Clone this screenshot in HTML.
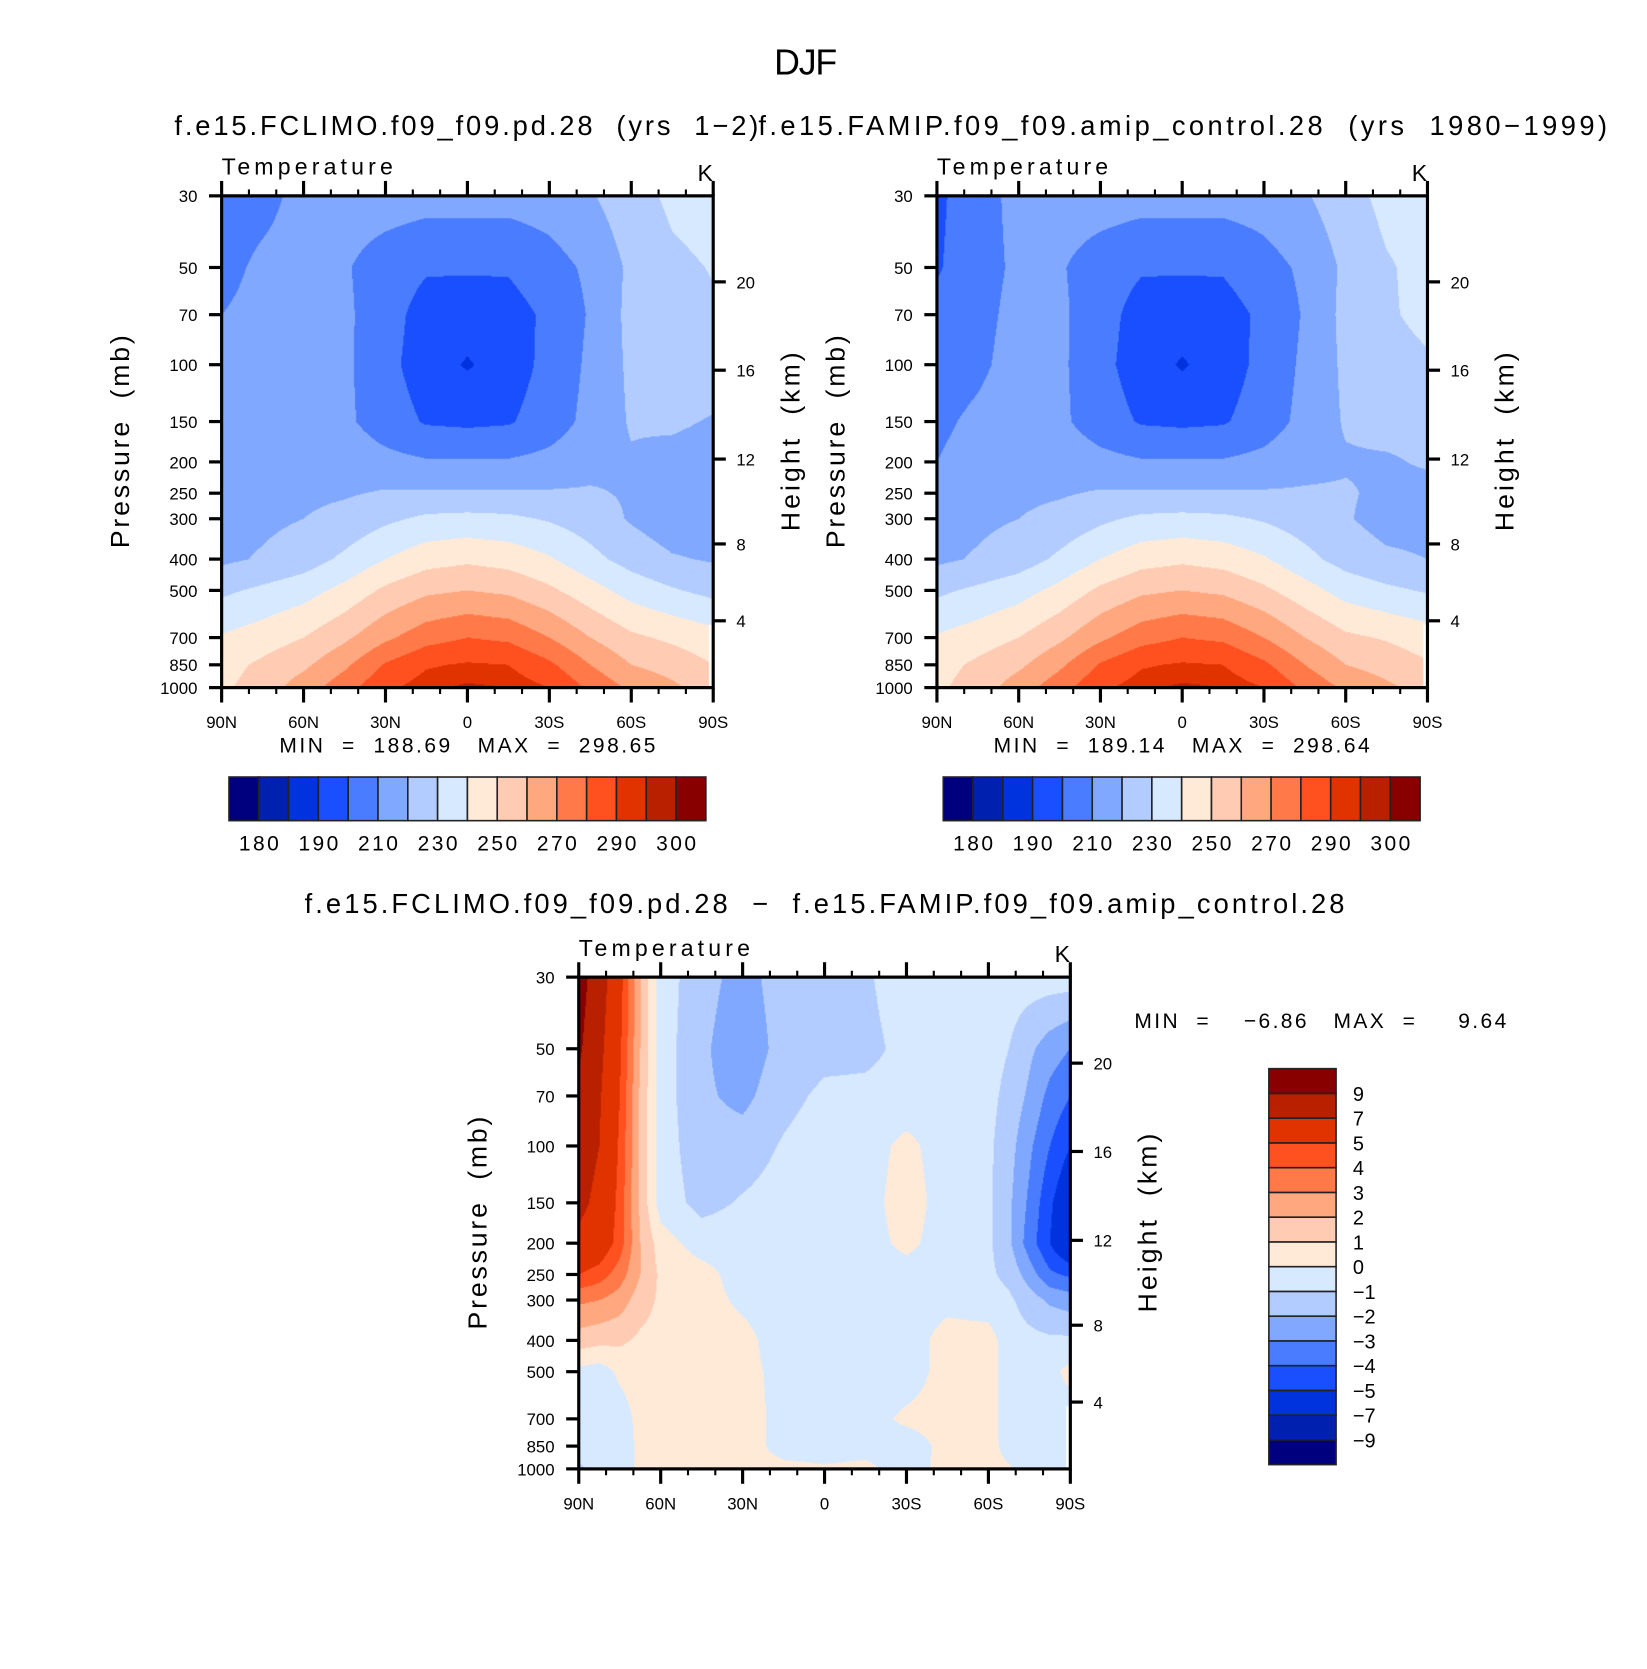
<!DOCTYPE html>
<html><head><meta charset="utf-8">
<style>
html,body{margin:0;padding:0;background:#fff;}
#page{position:relative;width:1647px;height:1669px;overflow:hidden;background:#fff;}
#stage{position:absolute;left:0;top:0;width:1568px;height:1568px;transform-origin:0 0;transform:scale(1.05038,1.06441);}
canvas{position:absolute;}
svg{position:absolute;left:0;top:0;}
text{font-family:"Liberation Sans",sans-serif;fill:#000;white-space:pre;}
</style></head>
<body>
<div id="page">
<div id="stage">
<canvas id="c1" style="left:211px;top:184px" width="468" height="462"></canvas>
<canvas id="c2" style="left:892px;top:184px" width="467" height="462"></canvas>
<canvas id="c3" style="left:551px;top:918px" width="468" height="462"></canvas>
<svg id="ov" width="1568" height="1568"></svg>
</div></div>
<script>
// ---- data ----
const LEVELS=[30,50,70,100,150,200,250,300,400,500,700,850,1000];
const LATS13=[90,75,60,45,30,15,0,-15,-30,-45,-60,-75,-90];
const LATS17=[90,82.5,75,67.5,60,45,30,15,0,-15,-30,-45,-60,-67.5,-75,-82.5,-90];
const T1=[
[205,207,213,215,215,214,214,214,215,219,226,232,234],
[207,212,214,211,205,201,201,201,206,212,222,228,230.5],
[210,213,215,212,204,196,195,196,202,211,223,226,229],
[213,215,216,212,203,195,189,195,203,212,222,225,227],
[214,216,217,212,205,199,198,199,205,213,221,222,219],
[215,216,217,216,213,211,211,211,213,217,219,216,214],
[216,217,218,219,221,221,221,221,221,221,219,216,214],
[217,218,220,223,228,232,233,232,229,225,219,214,214],
[218,221,225,232,240,246,248,246,241,233,226,221,219],
[228,232,236,243,252,258,260,258,252,244,236,231,227],
[241,245,250,258,268,276,280,278,270,260,252,248,244],
[246,252,258,268,281,289,291,290,282,270,260,256,250],
[248,255,265,276,288,294,296,295,290,278,268,262,255]];
const T2=[
[198,206,213,215,215,214,214,214,215,219,226,233,235],
[199,206,212,211,205,201,201,201,206,212,222,229,233],
[203,207,213,212,204,196,195,196,202,211,223,229,232],
[205,208,214,212,203,195,189,195,203,212,222,227,229],
[208,212,216,212,205,199,198,199,205,213,221,223,223],
[210,214,217,216,213,211,211,211,213,217,219,219,221],
[214,217,218,219,221,221,221,221,221,221,221,218,217],
[217,218,220,223,228,232,233,232,229,225,221,216,216],
[218,221,225,232,240,246,248,246,241,233,226,222,220],
[228,232,236,243,252,258,260,258,252,244,236,232,229],
[241,245,250,258,268,276,280,278,270,260,252,249,245],
[246,252,258,268,281,289,291,290,282,270,260,256,251],
[248,255,265,276,288,294,296,295,290,278,268,262,256]];
const D3=[
[9.8,8,5.5,2,-0.5,-1.6,-2.4,-1.5,-1.2,-1.1,-0.6,-0.5,-0.5,-0.5,-0.5,-0.5,-0.5],
[9.3,7.5,5.2,2,-0.5,-1.8,-2.7,-1.6,-1.3,-1.2,-0.8,-0.6,-0.6,-1.0,-1.8,-2.5,-3],
[8.5,7.2,5.0,1.8,-0.5,-1.8,-2.3,-1.3,-0.8,-0.8,-0.7,-0.6,-0.7,-1.3,-2.2,-3.3,-4],
[8,7,4.8,1.8,-0.5,-1.6,-1.5,-0.9,-0.5,-0.5,0.3,-0.6,-0.8,-1.6,-2.8,-4,-5],
[7.5,6.5,4.6,1.8,-0.5,-1.3,-0.9,-0.6,-0.5,-0.5,0.6,-0.6,-0.8,-1.8,-3.2,-4.8,-6.2],
[6.5,6,4.5,2,0.5,-0.5,-0.5,-0.5,-0.5,-0.5,0.3,-0.6,-0.8,-1.8,-3.5,-5,-6.5],
[5,4.5,3.5,2,0.8,0.4,-0.5,-0.5,-0.5,-0.5,-0.5,-0.5,-0.8,-1.3,-2.5,-3.8,-4.2],
[3.2,3,2.5,1.5,0.8,0.4,-0.2,-0.5,-0.5,-0.5,-0.5,-0.3,-0.5,-0.8,-1.5,-2.2,-2.5],
[1.5,1.3,1.2,0.8,0.6,0.5,0.3,-0.5,-0.5,-0.5,-0.5,0.4,0.4,-0.5,-0.7,-0.8,-0.8],
[-0.3,-0.5,0.2,0.5,0.5,0.5,0.3,-0.3,-0.5,-0.5,-0.5,0.4,0.4,-0.5,-0.5,-0.3,0.3],
[-0.5,-0.5,-0.5,0.3,0.5,0.4,0.4,-0.3,-0.5,-0.4,0.2,0.4,0.4,-0.5,-0.5,-0.5,-0.5],
[-0.5,-0.6,-0.5,0.2,0.5,0.4,0.4,-0.3,-0.4,-0.3,-0.5,0.3,0.3,-0.3,-0.5,-0.5,-0.5],
[-1.2,-0.6,-0.5,0.2,0.4,0.4,0.3,0.2,0.1,0.2,-0.4,0.3,0.3,0.1,-0.5,-0.5,-0.5]];
const TEMP_BOUNDS=[180,185,190,200,210,220,230,240,250,260,270,280,290,295,300];
const DIFF_BOUNDS=[-9,-7,-5,-4,-3,-2,-1,0,1,2,3,4,5,7,9];
const TEMP_LABELS=['180','190','210','230','250','270','290','300'];
const DIFF_LABELS=['−9','−7','−5','−4','−3','−2','−1','0','1','2','3','4','5','7','9'];
const COLORS=['#00007f','#0020b0','#0033dd','#1a4fff','#4a7cff','#80a8ff','#b3ccff','#d7e9ff','#ffead8','#ffcbb2','#ffa880','#ff7a48','#ff5020','#e03300','#b82000','#880000'];
const P_TICKS=[30,50,70,100,150,200,250,300,400,500,700,850,1000];
const H_TICKS=['4','8','12','16','20'];
const H_PRES=[621,359,196,104,55.4];
const X_LABELS=['90N','60N','30N','0','30S','60S','90S'];

// ---- helpers ----
const LN=Math.log(1000/30);
function yOfP(p,y0,H){return y0+Math.log(p/30)/LN*H;}
function hexRGB(h){return [parseInt(h.substr(1,2),16),parseInt(h.substr(3,2),16),parseInt(h.substr(5,2),16)];}
const RGB=COLORS.map(hexRGB);
function sample(grid,lats,lat,p){
  let i=0;while(i<lats.length-2&&lat<lats[i+1])i++;
  let tx=(lats[i]-lat)/(lats[i]-lats[i+1]);tx=Math.max(0,Math.min(1,tx));
  let k=0;while(k<LEVELS.length-2&&p>LEVELS[k+1])k++;
  let ty=(Math.log(p)-Math.log(LEVELS[k]))/(Math.log(LEVELS[k+1])-Math.log(LEVELS[k]));ty=Math.max(0,Math.min(1,ty));
  const a=grid[k][i],b=grid[k][i+1],c=grid[k+1][i],d=grid[k+1][i+1];
  return (a*(1-tx)+b*tx)*(1-ty)+(c*(1-tx)+d*tx)*ty;
}
function colorIdx(v,bounds){let n=0;for(const b of bounds)if(v>=b)n++;return n;}
function fill(id,grid,lats,bounds,mask){
  const cv=document.getElementById(id),ctx=cv.getContext('2d');
  const W=cv.width,H=cv.height,img=ctx.createImageData(W,H);
  for(let py=0;py<H;py++){
    const p=30*Math.exp((py+0.5)/H*LN);
    for(let px=0;px<W;px++){
      const lat=90-(px+0.5)/W*180;
      const o=(py*W+px)*4;
      if(mask&&lat<-88.5&&p>640){img.data[o+3]=0;continue;}
      const c=RGB[colorIdx(sample(grid,lats,lat,p),bounds)];
      img.data[o]=c[0];img.data[o+1]=c[1];img.data[o+2]=c[2];img.data[o+3]=255;
    }
  }
  ctx.putImageData(img,0,0);
}
const NS='http://www.w3.org/2000/svg';
const ov=document.getElementById('ov');
function mk(tag,attrs,parent){const e=document.createElementNS(NS,tag);for(const k in attrs)e.setAttribute(k,attrs[k]);(parent||ov).appendChild(e);return e;}
function txt(s,x,y,size,anchor,parent,rot,len){
  const a={x:x,y:y,'font-size':size,'text-anchor':anchor||'start'};
  if(rot)a.transform='rotate(-90 '+x+' '+y+')';
  if(len){a.textLength=len;a.lengthAdjust='spacing';}
  const e=mk('text',a,parent);e.textContent=s;return e;
}

function axes(name,x0,y0,W,H){
  const g=mk('g',{});
  
  
  const fr=mk('rect',{x:x0,y:y0,width:W,height:H,fill:'none',stroke:'#000','stroke-width':3},g);
  
  
  for(let d=0;d<=180;d+=10){
    const x=x0+d/180*W,major=d%30===0,L=major?14:6;
    const t1=mk('line',{x1:x,y1:y0,x2:x,y2:y0-L,stroke:'#000','stroke-width':major?3:2},g);
    
    
    const t2=mk('line',{x1:x,y1:y0+H,x2:x,y2:y0+H+L,stroke:'#000','stroke-width':major?3:2},g);
    
    
  }
  X_LABELS.forEach((s,i)=>{
    const t=txt(s,x0+i*W/6,y0+H+38,16,'middle',g);
    
    
  });
  P_TICKS.forEach(p=>{
    const y=yOfP(p,y0,H);
    const l=mk('line',{x1:x0,y1:y,x2:x0-12,y2:y,stroke:'#000','stroke-width':3},g);
    
    
    const t=txt(String(p),x0-23,y+6,16,'end',g);
    
    
  });
  H_TICKS.forEach((s,i)=>{
    const y=yOfP(H_PRES[i],y0,H);
    const l=mk('line',{x1:x0+W,y1:y,x2:x0+W+12,y2:y,stroke:'#000','stroke-width':3},g);
    
    
    const t=txt(s,x0+W+22,y+6,16,'start',g);
    
    
  });
  const tt=txt('Temperature',x0,y0-20,22,'start',g,false,163);
  
  
  const tk=txt('K',x0+W-15,y0-14,22,'start',g);
  
  
  const py=txt('Pressure  (mb)',x0-88,y0+H*0.5,25,'middle',g,true,200);
  
  
  const hy=txt('Height  (km)',x0+W+82,y0+H*0.5,25,'middle',g,true,168);
  
  
}

function hbar(name,x0,y0,W,H){
  const g=mk('g',{});
  
  
  const n=COLORS.length,bw=W/n;
  COLORS.forEach((c,i)=>{
    const r=mk('rect',{x:x0+i*bw,y:y0,width:bw,height:H,fill:c,stroke:'#222','stroke-width':1.5},g);
    
    
  });
  TEMP_LABELS.forEach((s,j)=>{
    const t=txt(s,x0+(2*j+1)*bw,y0+H+28,20,'middle',g,false,38);
    
    
  });
}
function vbar(name,x0,y0,W,H){
  const g=mk('g',{});
  
  
  const n=COLORS.length,bh=H/n;
  COLORS.forEach((c,i)=>{
    const r=mk('rect',{x:x0,y:y0+(n-1-i)*bh,width:W,height:bh,fill:c,stroke:'#222','stroke-width':1.5},g);
    
    
  });
  DIFF_LABELS.forEach((s,j)=>{
    const y=y0+(n-1-j)*bh;
    const t=txt(s,x0+W+16,y+7,19,'start',g);
    
    
  });
}

// ---- draw ----
fill('c1',T1,LATS13,TEMP_BOUNDS,true);
fill('c2',T2,LATS13,TEMP_BOUNDS,true);
fill('c3',D3,LATS17,DIFF_BOUNDS,true);
axes('climo',211,184,468,462);
axes('amip',892,184,467,462);
axes('diff',551,918,468,462);
hbar('climo-colorbar',218,730,454,41);
hbar('amip-colorbar',898,730,454,41);
vbar('diff-colorbar',1208,1004,64,372);

const t0=txt('DJF',737,70,34,'start',null,false,60);


const ta=txt('f.e15.FCLIMO.f09_f09.pd.28  (yrs  1−2)',166,127,26,'start',null,false,556);


const tb=txt('f.e15.FAMIP.f09_f09.amip_control.28  (yrs  1980−1999)',722,127,26,'start',null,false,808);


const tc=txt('f.e15.FCLIMO.f09_f09.pd.28  −  f.e15.FAMIP.f09_f09.amip_control.28',290,858,26,'start',null,false,990);


const m1=txt('MIN  =  188.69   MAX  =  298.65',266,707,20,'start',null,false,358);


const m2=txt('MIN  =  189.14   MAX  =  298.64',946,707,20,'start',null,false,358);


const m3=txt('MIN  =    −6.86   MAX  =     9.64',1080,966,20,'start',null,false,354);


</script>
</body></html>
